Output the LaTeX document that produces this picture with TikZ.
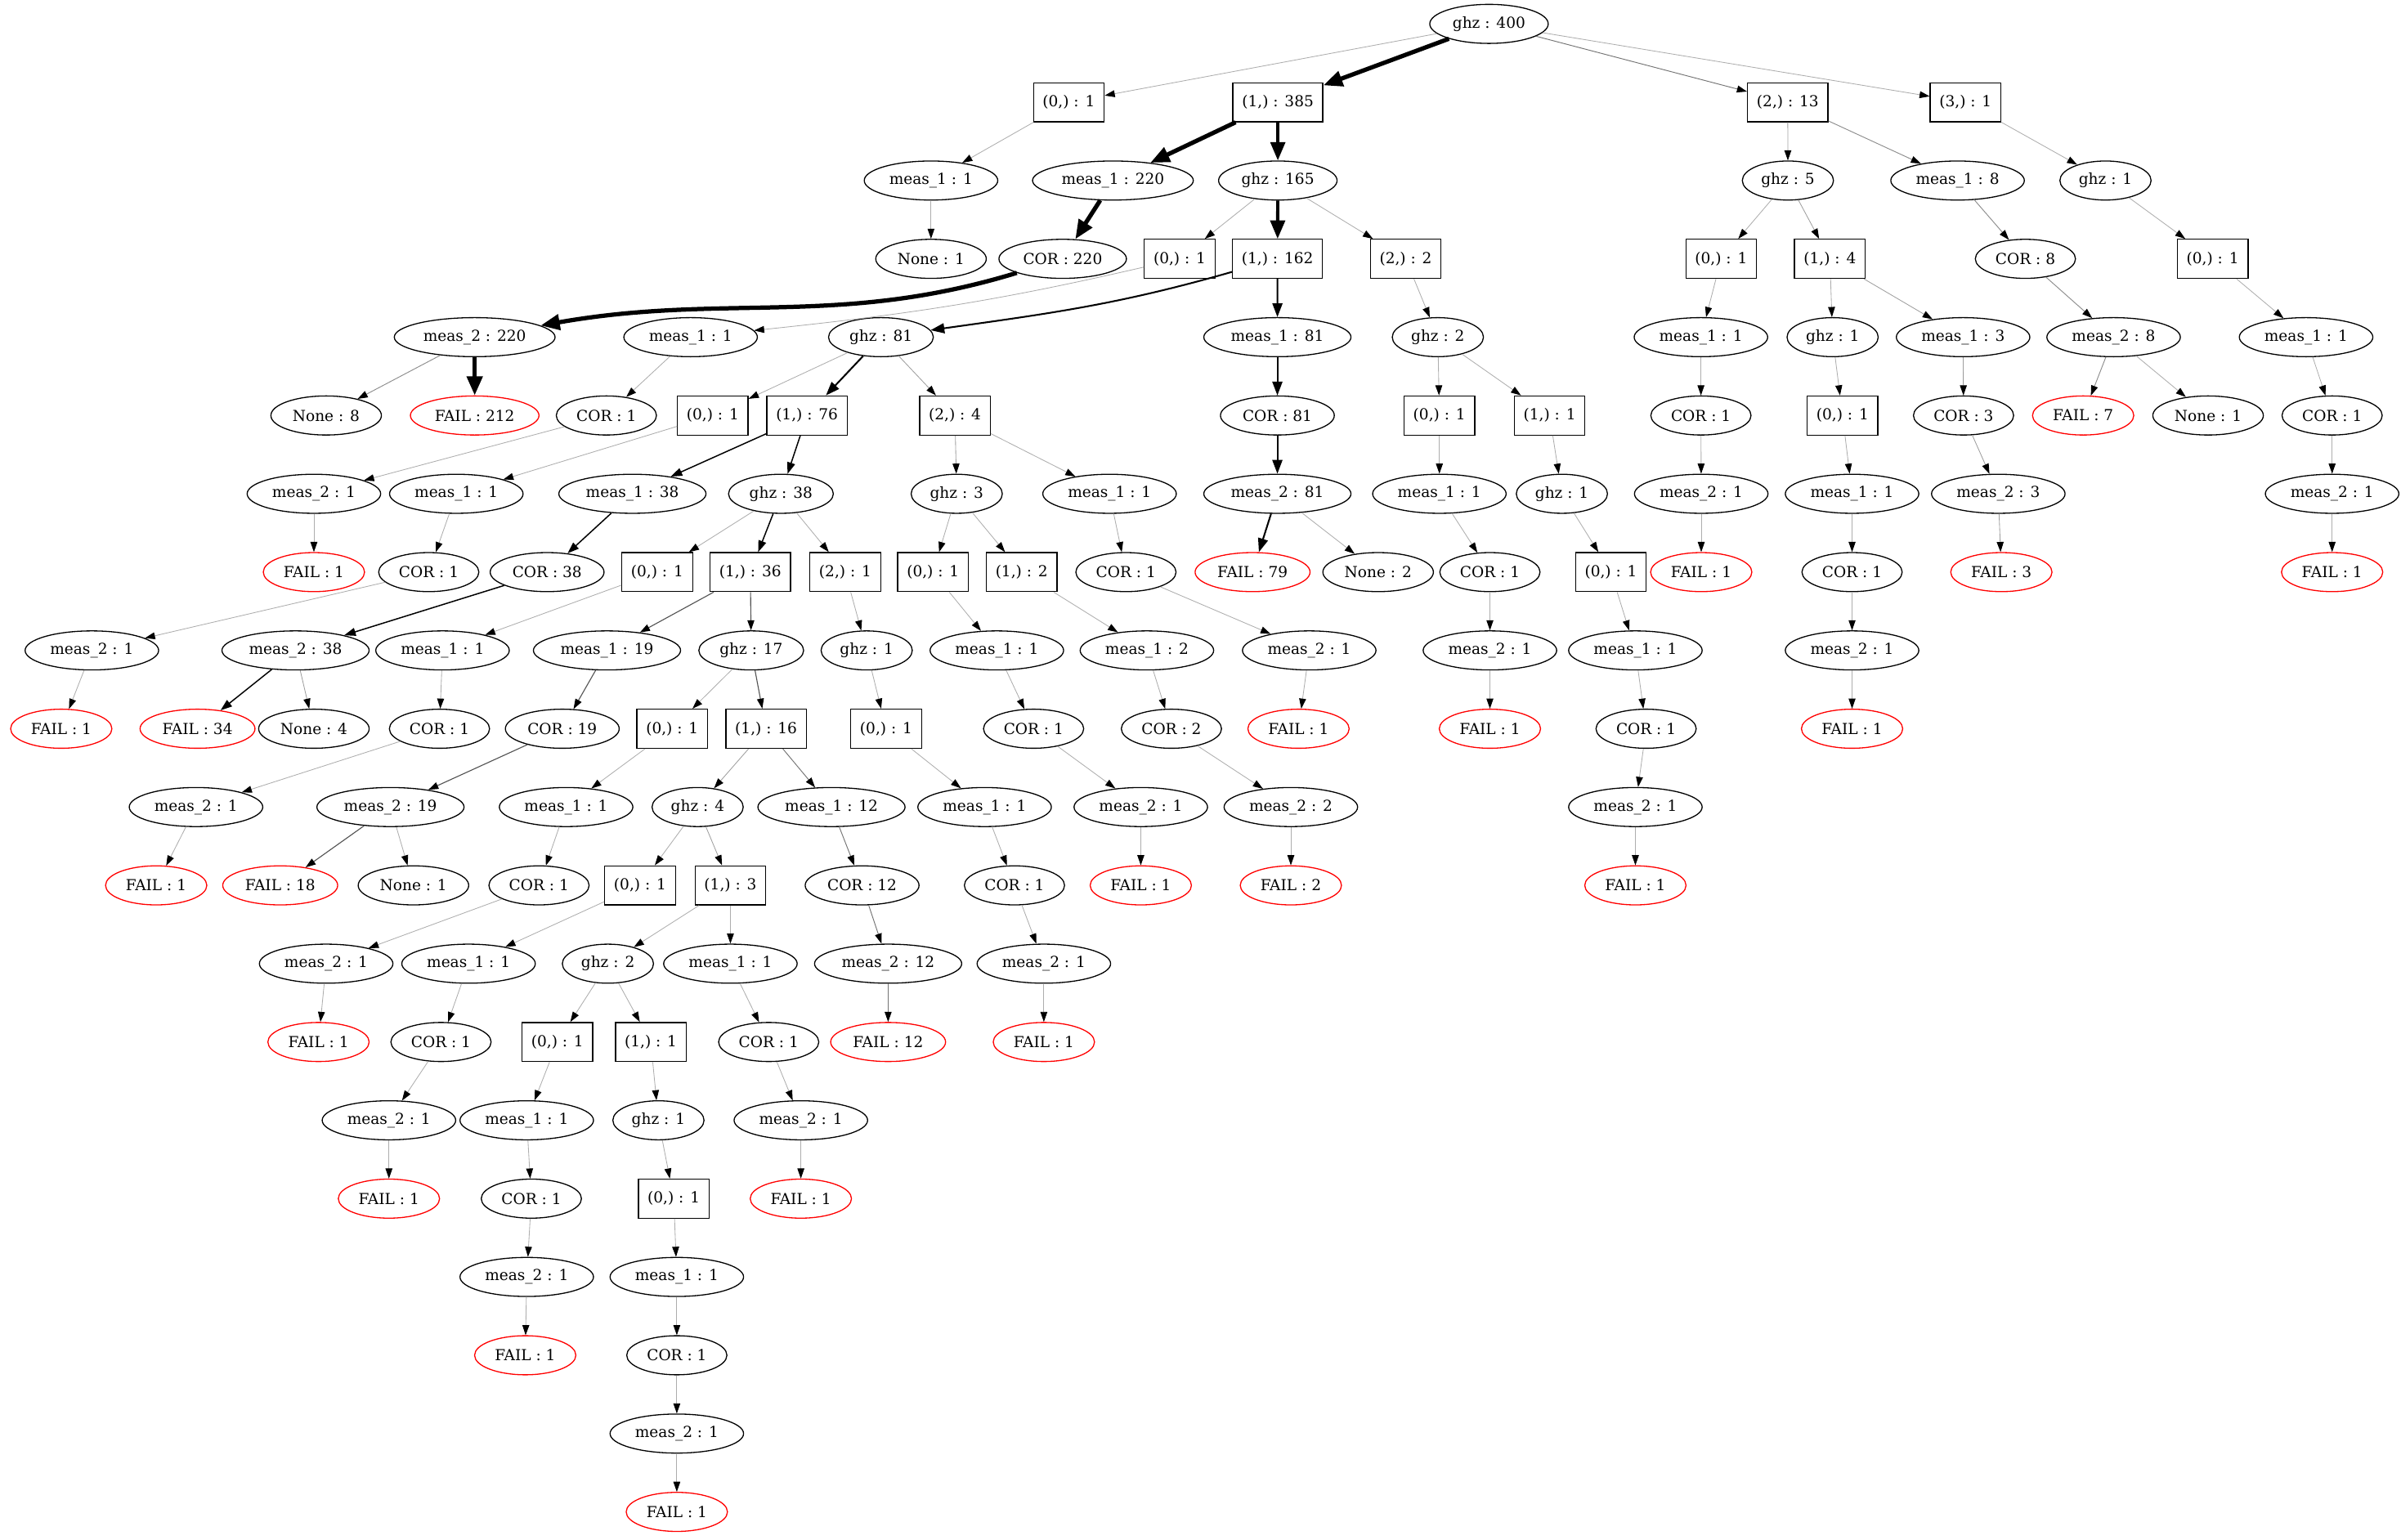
\documentclass[tikz,border=0pt]{standalone}
\usepackage{fontspec}
\setmainfont{DejaVu Serif}
\usetikzlibrary{shapes.geometric,arrows.meta}
\begin{document}
\begin{tikzpicture}[x=1pt,y=-51.15pt,
  every node/.style={font=\fontsize{9.9pt}{11pt}\selectfont,line width=0.7pt},
  el/.style={ellipse,draw,minimum height=25.5pt,minimum width=38pt,inner xsep=3.6pt,inner ysep=1pt},
  fl/.style={el,draw=red},
  bx/.style={rectangle,draw,minimum height=25.5pt,minimum width=38pt,inner xsep=6pt,inner ysep=1pt},
  s1/.style={draw=black!32,line width=0.45pt,-{Triangle[length=6.6pt,width=4.5pt,color=black]}},
  s4/.style={draw=black!38,line width=0.45pt,-{Triangle[length=6.6pt,width=4.5pt,color=black]}},
  s8/.style={draw=black!45,line width=0.5pt,-{Triangle[length=6.6pt,width=4.5pt,color=black]}},
  s12/.style={draw=black!55,line width=0.5pt,-{Triangle[length=6.6pt,width=4.5pt,color=black]}},
  s16/.style={draw=black!68,line width=0.6pt,-{Triangle[length=6.6pt,width=4.5pt,color=black]}},
  s36/.style={draw=black,line width=0.8pt,-{Triangle[length=7.5pt,width=5.2pt,color=black]}},
  s80/.style={draw=black,line width=1.1pt,-{Triangle[length=9pt,width=6.5pt,color=black]}},
  s160/.style={draw=black,line width=2.1pt,-{Triangle[length=12pt,width=9.5pt,color=black]}},
  s220/.style={draw=black,line width=2.8pt,-{Triangle[length=12.5pt,width=10pt,color=black]}}
]
\useasboundingbox (0,-0.305) rectangle (1568,19.349);
% row 0
\node[el] (n0) at (972.4,0) {ghz : 400};
% row 1
\node[bx] (a0) at (698,1) {(0,) : 1};
\node[bx] (a1) at (834.5,1) {(1,) : 385};
\node[bx] (a2) at (1167.5,1) {(2,) : 13};
\node[bx] (a3) at (1283.6,1) {(3,) : 1};
% row 2
\node[el] (a0m) at (608,2) {meas\_1 : 1};
\node[el] (a1m) at (726.8,2) {meas\_1 : 220};
\node[el] (a1g) at (834.5,2) {ghz : 165};
\node[el] (a2g) at (1167.6,2) {ghz : 5};
\node[el] (a2m) at (1278.4,2) {meas\_1 : 8};
\node[el] (a3g) at (1375,2) {ghz : 1};
% row 3
\node[el] (a0n) at (608,3) {None : 1};
\node[el] (a1c) at (694,3) {COR : 220};
\node[bx] (b0) at (770.4,3) {(0,) : 1};
\node[bx] (b1) at (834.3,3) {(1,) : 162};
\node[bx] (b2) at (918,3) {(2,) : 2};
\node[bx] (c0) at (1124,3) {(0,) : 1};
\node[bx] (c1) at (1195,3) {(1,) : 4};
\node[el] (a2c) at (1322.7,3) {COR : 8};
\node[bx] (d0) at (1445,3) {(0,) : 1};
% row 4
\node[el] (m2a) at (310,4) {meas\_2 : 220};
\node[el] (b0m) at (451,4) {meas\_1 : 1};
\node[el] (b1g) at (575.3,4) {ghz : 81};
\node[el] (b1m) at (834.2,4) {meas\_1 : 81};
\node[el] (b2g) at (939,4) {ghz : 2};
\node[el] (c0m) at (1110.8,4) {meas\_1 : 1};
\node[el] (c1g) at (1196.8,4) {ghz : 1};
\node[el] (c1m) at (1282,4) {meas\_1 : 3};
\node[el] (a2d) at (1380.3,4) {meas\_2 : 8};
\node[el] (d0m) at (1506,4) {meas\_1 : 1};
% row 5
\node[el] (m2n) at (213,5) {None : 8};
\node[fl] (m2f) at (310,5) {FAIL : 212};
\node[el] (b0c) at (396,5) {COR : 1};
\node[bx] (e0) at (465.5,5) {(0,) : 1};
\node[bx] (e1) at (527,5) {(1,) : 76};
\node[bx] (e2) at (623.6,5) {(2,) : 4};
\node[el] (b1c) at (834.2,5) {COR : 81};
\node[bx] (g0) at (940,5) {(0,) : 1};
\node[bx] (g1) at (1012,5) {(1,) : 1};
\node[el] (c0c) at (1110.8,5) {COR : 1};
\node[bx] (h0) at (1203.3,5) {(0,) : 1};
\node[el] (c1c) at (1282.3,5) {COR : 3};
\node[fl] (a2f) at (1360.4,5) {FAIL : 7};
\node[el] (a2n) at (1442,5) {None : 1};
\node[el] (d0c) at (1523,5) {COR : 1};
% row 6
\node[el] (b0d) at (205,6) {meas\_2 : 1};
\node[el] (e0m) at (298,6) {meas\_1 : 1};
\node[el] (e1m) at (413,6) {meas\_1 : 38};
\node[el] (e1g) at (510,6) {ghz : 38};
\node[el] (e2g) at (624.8,6) {ghz : 3};
\node[el] (e2m) at (724.6,6) {meas\_1 : 1};
\node[el] (b1d) at (834.2,6) {meas\_2 : 81};
\node[el] (g0m) at (940,6) {meas\_1 : 1};
\node[el] (g1g) at (1020,6) {ghz : 1};
\node[el] (c0d) at (1111,6) {meas\_2 : 1};
\node[el] (h0m) at (1209.5,6) {meas\_1 : 1};
\node[el] (c1d) at (1305,6) {meas\_2 : 3};
\node[el] (d0d) at (1523,6) {meas\_2 : 1};
% row 7
\node[fl] (b0f) at (205,7) {FAIL : 1};
\node[el] (e0c) at (280,7) {COR : 1};
\node[el] (e1c) at (357.3,7) {COR : 38};
\node[bx] (i0) at (429.2,7) {(0,) : 1};
\node[bx] (i1) at (490,7) {(1,) : 36};
\node[bx] (i2) at (552,7) {(2,) : 1};
\node[bx] (j0) at (609.3,7) {(0,) : 1};
\node[bx] (j1) at (667.2,7) {(1,) : 2};
\node[el] (e2c) at (735.3,7) {COR : 1};
\node[fl] (b1f) at (818,7) {FAIL : 79};
\node[el] (b1n) at (900,7) {None : 2};
\node[el] (g0c) at (973,7) {COR : 1};
\node[bx] (k0) at (1052,7) {(0,) : 1};
\node[fl] (c0f) at (1111,7) {FAIL : 1};
\node[el] (h0c) at (1209.5,7) {COR : 1};
\node[fl] (c1f) at (1307,7) {FAIL : 3};
\node[fl] (d0f) at (1523,7) {FAIL : 1};
% row 8
\node[el] (e0d) at (60,8) {meas\_2 : 1};
\node[el] (e1d) at (193,8) {meas\_2 : 38};
\node[el] (i0m) at (289,8) {meas\_1 : 1};
\node[el] (i1m) at (396.4,8) {meas\_1 : 19};
\node[el] (i1g) at (490.6,8) {ghz : 17};
\node[el] (i2g) at (566,8) {ghz : 1};
\node[el] (j0m) at (651,8) {meas\_1 : 1};
\node[el] (j1m) at (749,8) {meas\_1 : 2};
\node[el] (e2d) at (855,8) {meas\_2 : 1};
\node[el] (g0d) at (973,8) {meas\_2 : 1};
\node[el] (k0m) at (1068,8) {meas\_1 : 1};
\node[el] (h0d) at (1209.5,8) {meas\_2 : 1};
% row 9
\node[fl] (e0f) at (40,9) {FAIL : 1};
\node[fl] (e1f) at (129,9) {FAIL : 34};
\node[el] (e1n) at (205,9) {None : 4};
\node[el] (i0c) at (287,9) {COR : 1};
\node[el] (i1c) at (367.2,9) {COR : 19};
\node[bx] (l0) at (439,9) {(0,) : 1};
\node[bx] (l1) at (500.3,9) {(1,) : 16};
\node[bx] (m0) at (578.7,9) {(0,) : 1};
\node[el] (j0c) at (675,9) {COR : 1};
\node[el] (j1c) at (765,9) {COR : 2};
\node[fl] (e2f) at (848,9) {FAIL : 1};
\node[fl] (g0f) at (973,9) {FAIL : 1};
\node[el] (k0c) at (1075,9) {COR : 1};
\node[fl] (h0f) at (1209.5,9) {FAIL : 1};
% row 10
\node[el] (i0d) at (128,10) {meas\_2 : 1};
\node[el] (i1d) at (255,10) {meas\_2 : 19};
\node[el] (l0m) at (369.7,10) {meas\_1 : 1};
\node[el] (l1g) at (455.6,10) {ghz : 4};
\node[el] (l1m) at (543,10) {meas\_1 : 12};
\node[el] (m0m) at (643,10) {meas\_1 : 1};
\node[el] (j0d) at (745,10) {meas\_2 : 1};
\node[el] (j1d) at (843,10) {meas\_2 : 2};
\node[el] (k0d) at (1068,10) {meas\_2 : 1};
% row 11
\node[fl] (i0f) at (102,11) {FAIL : 1};
\node[fl] (i1f) at (183,11) {FAIL : 18};
\node[el] (i1n) at (270,11) {None : 1};
\node[el] (l0c) at (352,11) {COR : 1};
\node[bx] (n0b) at (418,11) {(0,) : 1};
\node[bx] (n1b) at (477,11) {(1,) : 3};
\node[el] (l1c) at (563,11) {COR : 12};
\node[el] (m0c) at (662.5,11) {COR : 1};
\node[fl] (j0f) at (745,11) {FAIL : 1};
\node[fl] (j1f) at (843,11) {FAIL : 2};
\node[fl] (k0f) at (1068,11) {FAIL : 1};
% row 12
\node[el] (l0d) at (213,12) {meas\_2 : 1};
\node[el] (n0m) at (306,12) {meas\_1 : 1};
\node[el] (n1g) at (397,12) {ghz : 2};
\node[el] (n1m) at (477,12) {meas\_1 : 1};
\node[el] (l1d) at (580,12) {meas\_2 : 12};
\node[el] (m0d) at (681.7,12) {meas\_2 : 1};
% row 13
\node[fl] (l0f) at (208,13) {FAIL : 1};
\node[el] (n0c) at (288,13) {COR : 1};
\node[bx] (o0) at (364,13) {(0,) : 1};
\node[bx] (o1) at (425,13) {(1,) : 1};
\node[el] (n1c) at (502,13) {COR : 1};
\node[fl] (l1f) at (580,13) {FAIL : 12};
\node[fl] (m0f) at (681.7,13) {FAIL : 1};
% row 14
\node[el] (n0d) at (254,14) {meas\_2 : 1};
\node[el] (o0m) at (344,14) {meas\_1 : 1};
\node[el] (o1g) at (430,14) {ghz : 1};
\node[el] (n1d) at (523,14) {meas\_2 : 1};
% row 15
\node[fl] (n0f) at (254,15) {FAIL : 1};
\node[el] (o0c) at (347,15) {COR : 1};
\node[bx] (p0) at (440,15) {(0,) : 1};
\node[fl] (n1f) at (523,15) {FAIL : 1};
% rows 16-19
\node[el] (o0d) at (344,16) {meas\_2 : 1};
\node[el] (p0m) at (442,16) {meas\_1 : 1};
\node[fl] (o0f) at (343,17) {FAIL : 1};
\node[el] (p0c) at (442,17) {COR : 1};
\node[el] (p0d) at (442,18) {meas\_2 : 1};
\node[fl] (p0f) at (442,19) {FAIL : 1};
% ---------- edges ----------
\draw[s1] (n0) -- (a0);
\draw[s220] (n0) -- (a1);
\draw[s12] (n0) -- (a2);
\draw[s1] (n0) -- (a3);
\draw[s1] (a0) -- (a0m);
\draw[s1] (a0m) -- (a0n);
\draw[s220] (a1) -- (a1m);
\draw[s160] (a1) -- (a1g);
\draw[s220] (a1m) -- (a1c);
\draw[s220] (a1c) to[out=197,in=10] (m2a);
\draw[s8] (m2a) -- (m2n);
\draw[s220] (m2a) -- (m2f);
\draw[s1] (a1g) -- (b0);
\draw[s160] (a1g) -- (b1);
\draw[s1] (a1g) -- (b2);
\draw[s1] (b0) to[out=193,in=6] (b0m);
\draw[s1] (b0m) -- (b0c);
\draw[s1] (b0c) -- (b0d);
\draw[s1] (b0d) -- (b0f);
\draw[s80] (b1) to[out=196,in=8] (b1g);
\draw[s80] (b1) -- (b1m);
\draw[s80] (b1m) -- (b1c);
\draw[s80] (b1c) -- (b1d);
\draw[s80] (b1d) -- (b1f);
\draw[s1] (b1d) -- (b1n);
\draw[s1] (b1g) -- (e0);
\draw[s80] (b1g) -- (e1);
\draw[s4] (b1g) -- (e2);
\draw[s1] (e0) -- (e0m);
\draw[s1] (e0m) -- (e0c);
\draw[s1] (e0c) -- (e0d);
\draw[s1] (e0d) -- (e0f);
\draw[s36] (e1) -- (e1m);
\draw[s36] (e1) -- (e1g);
\draw[s36] (e1m) -- (e1c);
\draw[s36] (e1c) -- (e1d);
\draw[s36] (e1d) -- (e1f);
\draw[s4] (e1d) -- (e1n);
\draw[s1] (e1g) -- (i0);
\draw[s36] (e1g) -- (i1);
\draw[s1] (e1g) -- (i2);
\draw[s1] (i0) -- (i0m);
\draw[s1] (i0m) -- (i0c);
\draw[s1] (i0c) -- (i0d);
\draw[s1] (i0d) -- (i0f);
\draw[s16] (i1) -- (i1m);
\draw[s16] (i1) -- (i1g);
\draw[s16] (i1m) -- (i1c);
\draw[s16] (i1c) -- (i1d);
\draw[s16] (i1d) -- (i1f);
\draw[s1] (i1d) -- (i1n);
\draw[s1] (i1g) -- (l0);
\draw[s16] (i1g) -- (l1);
\draw[s1] (l0) -- (l0m);
\draw[s1] (l0m) -- (l0c);
\draw[s1] (l0c) -- (l0d);
\draw[s1] (l0d) -- (l0f);
\draw[s4] (l1) -- (l1g);
\draw[s12] (l1) -- (l1m);
\draw[s12] (l1m) -- (l1c);
\draw[s12] (l1c) -- (l1d);
\draw[s12] (l1d) -- (l1f);
\draw[s1] (l1g) -- (n0b);
\draw[s4] (l1g) -- (n1b);
\draw[s1] (n0b) -- (n0m);
\draw[s1] (n0m) -- (n0c);
\draw[s1] (n0c) -- (n0d);
\draw[s1] (n0d) -- (n0f);
\draw[s1] (n1b) -- (n1g);
\draw[s1] (n1b) -- (n1m);
\draw[s1] (n1g) -- (o0);
\draw[s1] (n1g) -- (o1);
\draw[s1] (o0) -- (o0m);
\draw[s1] (o0m) -- (o0c);
\draw[s1] (o0c) -- (o0d);
\draw[s1] (o0d) -- (o0f);
\draw[s1] (o1) -- (o1g);
\draw[s1] (o1g) -- (p0);
\draw[s1] (p0) -- (p0m);
\draw[s1] (p0m) -- (p0c);
\draw[s1] (p0c) -- (p0d);
\draw[s1] (p0d) -- (p0f);
\draw[s1] (n1m) -- (n1c);
\draw[s1] (n1c) -- (n1d);
\draw[s1] (n1d) -- (n1f);
\draw[s1] (i2) -- (i2g);
\draw[s1] (i2g) -- (m0);
\draw[s1] (m0) -- (m0m);
\draw[s1] (m0m) -- (m0c);
\draw[s1] (m0c) -- (m0d);
\draw[s1] (m0d) -- (m0f);
\draw[s4] (e2) -- (e2g);
\draw[s1] (e2) -- (e2m);
\draw[s1] (e2g) -- (j0);
\draw[s1] (e2g) -- (j1);
\draw[s1] (j0) -- (j0m);
\draw[s1] (j0m) -- (j0c);
\draw[s1] (j0c) -- (j0d);
\draw[s1] (j0d) -- (j0f);
\draw[s1] (j1) -- (j1m);
\draw[s1] (j1m) -- (j1c);
\draw[s1] (j1c) -- (j1d);
\draw[s1] (j1d) -- (j1f);
\draw[s1] (e2m) -- (e2c);
\draw[s1] (e2c) -- (e2d);
\draw[s1] (e2d) -- (e2f);
\draw[s1] (b2) -- (b2g);
\draw[s1] (b2g) -- (g0);
\draw[s1] (b2g) -- (g1);
\draw[s1] (g0) -- (g0m);
\draw[s1] (g0m) -- (g0c);
\draw[s1] (g0c) -- (g0d);
\draw[s1] (g0d) -- (g0f);
\draw[s1] (g1) -- (g1g);
\draw[s1] (g1g) -- (k0);
\draw[s1] (k0) -- (k0m);
\draw[s1] (k0m) -- (k0c);
\draw[s1] (k0c) -- (k0d);
\draw[s1] (k0d) -- (k0f);
\draw[s4] (a2) -- (a2g);
\draw[s8] (a2) -- (a2m);
\draw[s1] (a2g) -- (c0);
\draw[s4] (a2g) -- (c1);
\draw[s1] (c0) -- (c0m);
\draw[s1] (c0m) -- (c0c);
\draw[s1] (c0c) -- (c0d);
\draw[s1] (c0d) -- (c0f);
\draw[s1] (c1) -- (c1g);
\draw[s4] (c1) -- (c1m);
\draw[s1] (c1g) -- (h0);
\draw[s1] (h0) -- (h0m);
\draw[s1] (h0m) -- (h0c);
\draw[s1] (h0c) -- (h0d);
\draw[s1] (h0d) -- (h0f);
\draw[s4] (c1m) -- (c1c);
\draw[s4] (c1c) -- (c1d);
\draw[s4] (c1d) -- (c1f);
\draw[s8] (a2m) -- (a2c);
\draw[s8] (a2c) -- (a2d);
\draw[s8] (a2d) -- (a2f);
\draw[s1] (a2d) -- (a2n);
\draw[s1] (a3) -- (a3g);
\draw[s1] (a3g) -- (d0);
\draw[s1] (d0) -- (d0m);
\draw[s1] (d0m) -- (d0c);
\draw[s1] (d0c) -- (d0d);
\draw[s1] (d0d) -- (d0f);
\end{tikzpicture}
\end{document}
